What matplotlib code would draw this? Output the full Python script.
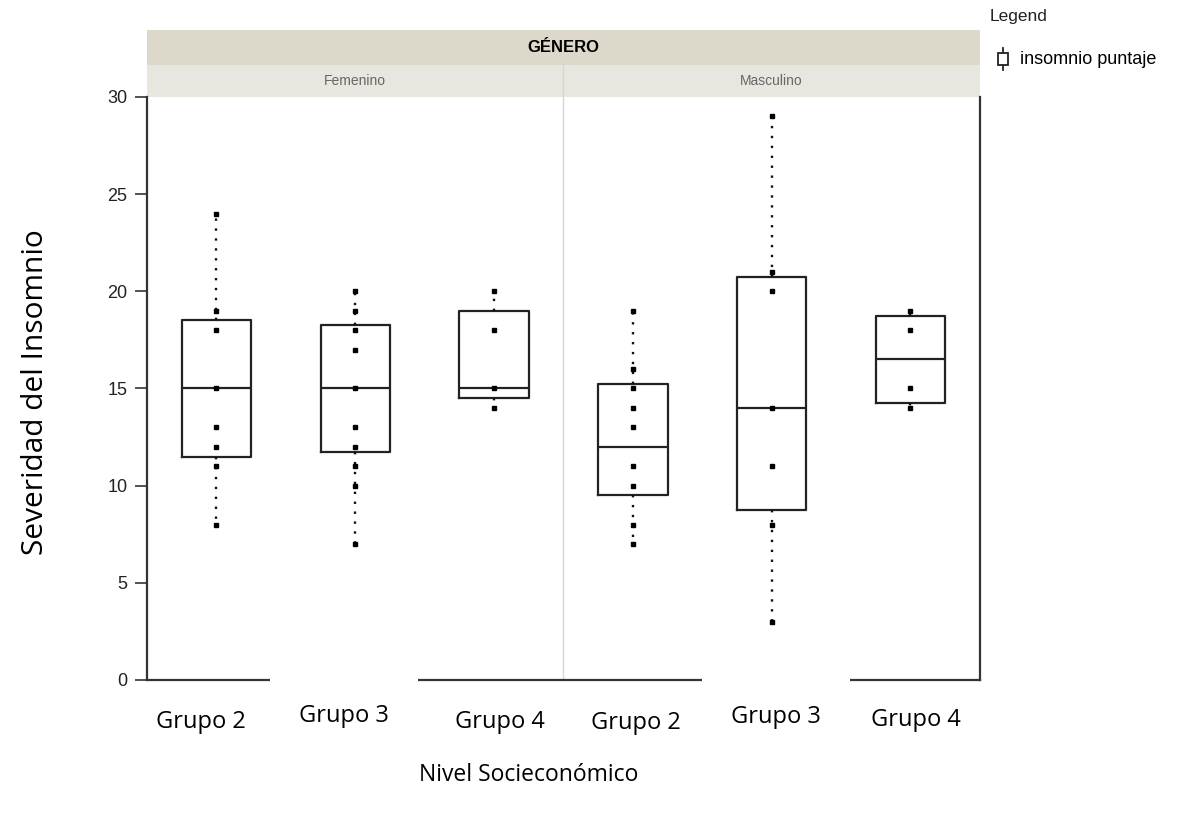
import numpy as np
import matplotlib.pyplot as plt
from matplotlib.patches import Rectangle
from matplotlib.lines import Line2D
from matplotlib.legend_handler import HandlerBase
import matplotlib.transforms as mtransforms

genero = ["Femenino", "Masculino"]
grupos = ["Grupo 2", "Grupo 3", "Grupo 4", "Grupo 2", "Grupo 3", "Grupo 4"]

# box summaries
whislo = [8, 7, 14, 7, 3, 14]
q1 = [11.5, 11.75, 14.5, 9.5, 8.75, 14.25]
med = [15, 15, 15, 12, 14, 16.5]
q3 = [18.5, 18.25, 19, 15.25, 20.75, 18.75]
whishi = [24, 20, 20, 19, 29, 19]

# individual scores drawn as dots
puntos = [
    [24, 19, 18, 15, 13, 12, 11, 8],
    [20, 19, 18, 17, 15, 13, 12, 11, 10, 7],
    [20, 18, 15, 14],
    [19, 16, 15, 14, 13, 11, 10, 8, 7],
    [29, 21, 20, 14, 11, 8, 3],
    [19, 18, 15, 14],
]

# hand-placed group labels are a bit off-centre (points)
nudge_x = [-11, -8, 4, 2, 3, 4]
nudge_y = [0, 4, 0, -1, 3, 1]


class BoxIcon(HandlerBase):
    def create_artists(self, legend, orig_handle, xdescent, ydescent,
                       width, height, fontsize, trans):
        cx = xdescent + width / 2
        w = height * 0.8
        rect = Rectangle((cx - w / 2, -ydescent - height * 0.05), w, height * 0.95,
                         facecolor="white", edgecolor="#222", lw=1.3, transform=trans)
        line = Line2D([cx, cx], [-ydescent - height * 0.45, -ydescent + height * 1.25],
                      color="#222", lw=1.3, transform=trans)
        return [line, rect]


fig = plt.figure(figsize=(11.82, 8.17), dpi=100)
ax = fig.add_axes([0.1244, 0.1677, 0.829 - 0.1244, 0.8813 - 0.1677])

pos = np.arange(len(grupos))
stats = []
for i in range(len(grupos)):
    stats.append(dict(med=med[i], q1=q1[i], q3=q3[i],
                      whislo=whislo[i], whishi=whishi[i], fliers=[]))

ax.bxp(stats, positions=pos, widths=0.5, showcaps=False, showfliers=False,
       boxprops=dict(color="#222", lw=1.6),
       medianprops=dict(color="#222", lw=1.6),
       whiskerprops=dict(color="#111", lw=1.7, linestyle=(0, (1, 3.2))))

for i, p in enumerate(puntos):
    ax.plot([pos[i]] * len(p), p, "s", ms=2.6, color="black", zorder=4)

ax.set_xlim(-0.5, 5.5)
ax.set_ylim(0, 30)
ax.set_yticks([0, 5, 10, 15, 20, 25, 30])
ax.set_xticks([])
ax.tick_params(axis="y", length=9, width=1.2, color="#333", labelsize=13,
               labelcolor="#222", pad=5)
for lab in ax.get_yticklabels():
    lab.set_fontfamily("Liberation Sans")
ax.spines["top"].set_visible(False)
for s in ["left", "right", "bottom"]:
    ax.spines[s].set_color("#333")
    ax.spines[s].set_linewidth(1.6)

# divider between the two gender panels
ax.axvline(2.5, color="#d6d6d6", lw=1, zorder=1)

# strips on top
h1 = 32 / 583
h2 = 35 / 583
ax.add_patch(Rectangle((0, 1), 1, h1, transform=ax.transAxes, clip_on=False,
                       facecolor="#e8e7df", edgecolor="none"))
ax.add_patch(Rectangle((0, 1 + h1), 1, h2, transform=ax.transAxes, clip_on=False,
                       facecolor="#dcd9cb", edgecolor="none"))
trans = mtransforms.blended_transform_factory(ax.transData, ax.transAxes)
ax.plot([2.5, 2.5], [1, 1 + h1], transform=trans, clip_on=False, color="#d6d6d0", lw=1)
ax.text(0.5, 1 + h1 + h2 / 2, "GÉNERO", transform=ax.transAxes, ha="center",
        va="center", fontsize=12, fontweight="bold", family="Liberation Sans")
ax.text(1.0, 1 + h1 / 2, genero[0], transform=trans, ha="center", va="center",
        fontsize=10, color="#666", family="Liberation Sans")
ax.text(4.0, 1 + h1 / 2, genero[1], transform=trans, ha="center", va="center",
        fontsize=10, color="#666", family="Liberation Sans")

# group labels, the Grupo 3 ones sit on white boxes that hide the axis line
for i, g in enumerate(grupos):
    t = ax.annotate(g, (pos[i], 0), xycoords=("data", "axes fraction"),
                    xytext=(nudge_x[i], -30 + nudge_y[i]), textcoords="offset points",
                    ha="center", va="center", fontsize=17, family="Open Sans",
                    annotation_clip=False, zorder=5)
    if g == "Grupo 3":
        t.set_bbox(dict(facecolor="white", edgecolor="none", pad=21))

fig.text(0.030, 0.52, "Severidad del Insomnio", rotation=90, ha="center",
         va="center", fontsize=21.5, family="Open Sans")
fig.text(0.447, 0.051, "Nivel Socieconómico", ha="center", va="center",
         fontsize=16.5, family="Open Sans")

fig.text(0.837, 0.980, "Legend", ha="left", va="center", fontsize=12.5,
         family="Liberation Sans", color="#222")
proxy = Rectangle((0, 0), 1, 1)
fig.legend([proxy], ["insomnio puntaje"], handler_map={Rectangle: BoxIcon()},
           loc="center left", bbox_to_anchor=(0.829, 0.927), frameon=False,
           handlelength=0.8, handletextpad=0.5,
           prop=dict(family="Liberation Sans", size=13))

fig.savefig("out.png", dpi=100)
